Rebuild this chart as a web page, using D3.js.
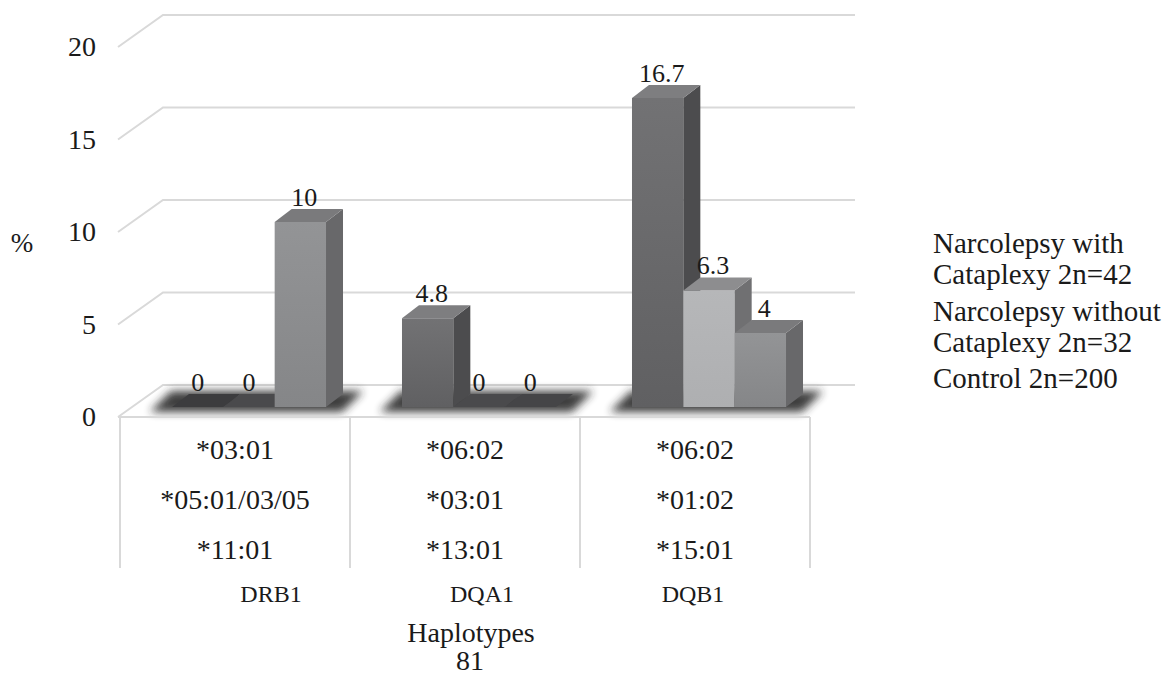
<!DOCTYPE html>
<html>
<head>
<meta charset="utf-8">
<script src="https://cdn.jsdelivr.net/npm/d3@7"></script>
</head>
<body style="margin:0">
<svg id="chart" width="1166" height="676"></svg>
<script>
// ---- data ----
const alleleRows = [
  ["*03:01", "*05:01/03/05", "*11:01"],
  ["*06:02", "*03:01", "*13:01"],
  ["*06:02", "*01:02", "*15:01"]
];
const loci = ["DRB1", "DQA1", "DQB1"];
const seriesNames = [
  ["Narcolepsy with", "Cataplexy 2n=42"],
  ["Narcolepsy without", "Cataplexy 2n=32"],
  ["Control 2n=200"]
];
const withCataplexy = [0, 4.8, 16.7];
const withoutCataplexy = [0, 0, 6.3];
const control = [10, 0, 4];
const yTicks = [0, 5, 10, 15, 20];
const yTitle = "%";
const xTitle = ["Haplotypes", "81"];

const seriesValues = [withCataplexy, withoutCataplexy, control];

// face shades per series: front (top->bottom), side, top, flat (zero height)
const shades = [
  { f1: "#727274", f2: "#606062", side: "#4c4c4e", top: "#7e7e80", flat: "#3c3c3e" },
  { f1: "#b6b7b9", f2: "#aeafb1", side: "#707072", top: "#8d8d8f", flat: "#4a4a4c" },
  { f1: "#939496", f2: "#858688", side: "#68686a", top: "#7a7a7c", flat: "#454547" }
];

const svg = d3.select("#chart");
const defs = svg.append("defs");

defs.append("filter").attr("id", "soft")
  .attr("x", "-20%").attr("y", "-80%").attr("width", "140%").attr("height", "260%")
  .append("feGaussianBlur").attr("stdDeviation", 4);

shades.forEach((s, i) => {
  const g = defs.append("linearGradient").attr("id", "front" + i)
    .attr("x1", 0).attr("y1", 0).attr("x2", 0).attr("y2", 1);
  g.append("stop").attr("offset", "0%").attr("stop-color", s.f1);
  g.append("stop").attr("offset", "100%").attr("stop-color", s.f2);
});

// every label is added through this helper: serif face, dark ink
function addText(parent, x, yy, str, size, anchor) {
  return parent.append("text")
    .attr("x", x).attr("y", yy)
    .attr("font-size", size)
    .attr("text-anchor", anchor || "middle")
    .attr("fill", "#1a1a1a")
    .style("font-family", "'Liberation Serif'")
    .text(str);
}

// ---- scales ----
const x0 = d3.scaleBand().domain(d3.range(alleleRows.length)).range([120, 810]);
const x1 = d3.scaleBand().domain(d3.range(seriesValues.length))
  .range([0, x0.bandwidth()]).paddingInner(0).paddingOuter(0.74);
const y = d3.scaleLinear().domain([0, 20]).range([417, 47]);
const lociX = d3.scalePoint().domain(loci).range([271, 693]);

// 3-D offsets
const WALL = { dx: 45, dy: -32 };
const BAR_FRONT = { dx: 14, dy: -10 };
const BAR_DEPTH = { dx: 17, dy: -13 };

const plotLeft = x0.range()[0] - 2;
const plotRight = x0.range()[1];

// ---- walls & gridlines ----
const grid = svg.append("g").attr("fill", "none").attr("stroke", "#d9d9d9").attr("stroke-width", 2);
yTicks.forEach(t => {
  const yf = y(t);
  grid.append("path").attr("d",
    `M${plotLeft},${yf} L${plotLeft + WALL.dx},${yf + WALL.dy} L${plotRight + WALL.dx},${yf + WALL.dy}`);
});

// y tick labels and title
yTicks.forEach(t => addText(svg, 96, y(t) + 9, t, 28, "end"));
addText(svg, 22, 252, yTitle, 27);

// ---- floor shadows ----
const shadowG = svg.append("g").attr("filter", "url(#soft)").attr("opacity", 0.9);
alleleRows.forEach((_, ci) => {
  const gx = x0(ci) + BAR_FRONT.dx;
  const xl = gx + x1(0), xr = gx + x1(seriesValues.length - 1) + x1.bandwidth();
  const yb = y(0) + BAR_FRONT.dy;
  const pts = [
    [xl - 22, yb + 5], [xr + 16, yb + 5],
    [xr + BAR_DEPTH.dx + 20, yb + BAR_DEPTH.dy - 3], [xl + BAR_DEPTH.dx - 18, yb + BAR_DEPTH.dy - 3]
  ];
  shadowG.append("polygon").attr("points", pts.map(p => p.join(",")).join(" ")).attr("fill", "#2a2a2a");
});

// ---- bars ----
const barsG = svg.append("g");
alleleRows.forEach((_, ci) => {
  seriesValues.forEach((vals, si) => {
    const v = vals[ci];
    const s = shades[si];
    const xL = x0(ci) + x1(si) + BAR_FRONT.dx;
    const xR = xL + x1.bandwidth();
    const yB = y(0) + BAR_FRONT.dy;
    const yT = y(v) + BAR_FRONT.dy;
    const dx = BAR_DEPTH.dx, dy = BAR_DEPTH.dy;
    const g = barsG.append("g");
    if (v > 0) {
      g.append("polygon").attr("fill", `url(#front${si})`)
        .attr("points", `${xL},${yT} ${xR},${yT} ${xR},${yB} ${xL},${yB}`);
      g.append("polygon").attr("fill", s.side)
        .attr("points", `${xR},${yT} ${xR + dx},${yT + dy} ${xR + dx},${yB + dy} ${xR},${yB}`);
    }
    g.append("polygon").attr("fill", v > 0 ? s.top : s.flat)
      .attr("points", `${xL},${yT} ${xL + dx},${yT + dy} ${xR + dx},${yT + dy} ${xR},${yT}`);
    addText(g, (xL + xR) / 2 + (v > 0 ? 4 : 0), yT + dy - 3, v, 26);
  });
});

// ---- category table ----
const table = svg.append("g").attr("stroke", "#d9d9d9").attr("stroke-width", 2).attr("fill", "none");
table.append("line").attr("x1", plotLeft).attr("x2", plotRight).attr("y1", y(0)).attr("y2", y(0));
x0.domain().concat([alleleRows.length]).forEach(i => {
  const xx = i < alleleRows.length ? x0(i) : plotRight;
  table.append("line").attr("x1", xx).attr("x2", xx).attr("y1", y(0)).attr("y2", 568);
});

const rowY = [459, 509, 559];
alleleRows.forEach((rows, ci) => {
  rows.forEach((lab, ri) => addText(svg, x0(ci) + x0.bandwidth() / 2, rowY[ri], lab, 28));
});

loci.forEach(l => addText(svg, lociX(l), 602, l, 24));

addText(svg, 471, 642, xTitle[0], 28);
addText(svg, 470, 670, xTitle[1], 28);

// ---- legend (text entries) ----
const legendBase = [[253, 284], [321, 352], [388]];
seriesNames.forEach((lines, si) => {
  lines.forEach((ln, li) => addText(svg, 933, legendBase[si][li], ln, 29, "start"));
});
</script>
</body>
</html>
